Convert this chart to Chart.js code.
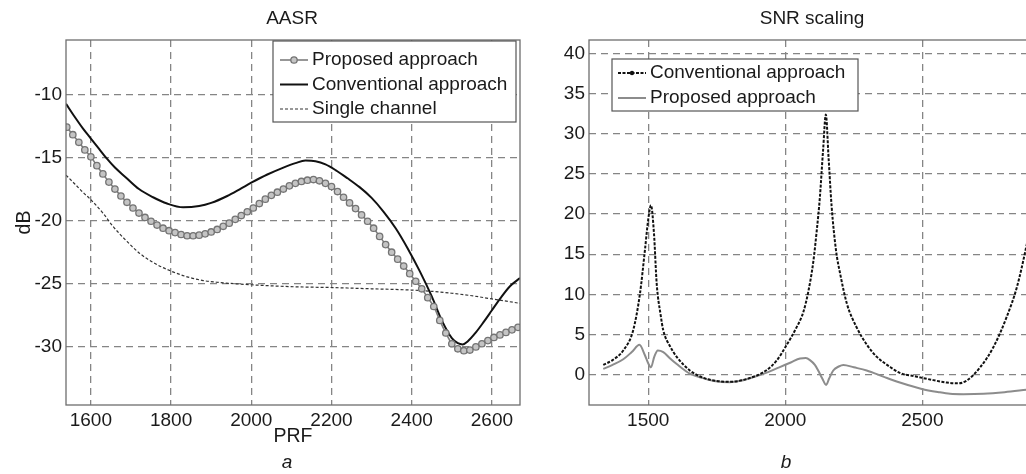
<!DOCTYPE html>
<html>
<head>
<meta charset="utf-8">
<script src="https://cdn.jsdelivr.net/npm/chart.js@4.4.1/dist/chart.umd.min.js"></script>
<style>
  html, body { margin: 0; padding: 0; background: #fff; overflow: hidden; }
  body { width: 1026px; height: 474px; position: relative; font-family: "Liberation Sans", Arial, sans-serif; color: #1a1a1a; }
  canvas { position: absolute; top: 0; }
  #aasrChart { left: 0; }
  #snrChart { left: 530px; }
  .label { position: absolute; transform: translate(-50%, -50%); white-space: nowrap; font-size: 19px; }
  .cap { font-style: italic; }
</style>
</head>
<body>
<canvas id="aasrChart" width="530" height="474"></canvas>
<canvas id="snrChart" width="530" height="474"></canvas>
<div class="label" style="left:292px; top:18px;">AASR</div>
<div class="label" style="left:812px; top:18px;">SNR scaling</div>
<div class="label cap" style="left:287px; top:462px;">a</div>
<div class="label cap" style="left:786px; top:462px;">b</div>

<script>
// ---- panel a: AASR vs PRF ----
const aasrPrf = [1540, 1555, 1570, 1585, 1600, 1615, 1630, 1645, 1660, 1675, 1690, 1705, 1720, 1735, 1750, 1765,
    1780, 1795, 1810, 1825, 1840, 1855, 1870, 1885, 1900, 1915, 1930, 1945, 1960, 1975, 1990, 2005,
    2020, 2035, 2050, 2065, 2080, 2095, 2110, 2125, 2140, 2155, 2170, 2185, 2200, 2215, 2230, 2245,
    2260, 2275, 2290, 2305, 2320, 2335, 2350, 2365, 2380, 2395, 2410, 2425, 2440, 2455, 2470, 2485,
    2500, 2515, 2530, 2545, 2560, 2575, 2590, 2605, 2620, 2635, 2650, 2665];
const aasrProposed = [-12.6, -13.2, -13.8, -14.4, -14.95, -15.65, -16.3, -16.95, -17.5, -18.05, -18.55, -19.0, -19.4, -19.75, -20.05, -20.35,
    -20.6, -20.8, -20.95, -21.1, -21.2, -21.2, -21.15, -21.05, -20.9, -20.7, -20.45, -20.2, -19.9, -19.6, -19.3, -19.0,
    -18.65, -18.3, -18.0, -17.75, -17.5, -17.25, -17.05, -16.9, -16.8, -16.75, -16.85, -17.05, -17.3, -17.7, -18.15, -18.6,
    -19.05, -19.55, -20.05, -20.6, -21.25, -21.9, -22.5, -23.05, -23.6, -24.2, -24.8, -25.4, -26.1, -26.8, -27.9, -28.9,
    -29.75, -30.15, -30.3, -30.25, -30.0, -29.75, -29.5, -29.25, -29.05, -28.85, -28.65, -28.45];

const aasrConvPrf = [1538, 1560, 1580, 1600, 1620, 1640, 1660, 1688, 1720, 1755, 1790, 1830, 1870, 1900, 1940, 1972,
    2000, 2040, 2080, 2110, 2135, 2160, 2185, 2210, 2240, 2270, 2300, 2330, 2360, 2390, 2420, 2450,
    2475, 2500, 2515, 2527, 2540, 2560, 2580, 2600, 2620, 2645, 2670];
const aasrConv = [-10.75, -11.8, -12.7, -13.5, -14.3, -15.1, -15.8, -16.6, -17.5, -18.15, -18.65, -18.95, -18.85, -18.6, -18.05, -17.5,
    -17.0, -16.35, -15.8, -15.45, -15.25, -15.3, -15.55, -16.0, -16.65, -17.35, -18.2, -19.3, -20.6, -22.2, -24.0, -26.0,
    -27.9, -29.3, -29.7, -29.8, -29.55, -28.85, -28.0, -27.1, -26.2, -25.2, -24.55];

const aasrSinglePrf = [1538, 1560, 1580, 1600, 1630, 1655, 1690, 1722, 1760, 1800, 1840, 1880, 1920, 1960, 2040, 2120,
    2200, 2300, 2400, 2450, 2500, 2550, 2600, 2640, 2670];
const aasrSingle = [-16.4, -17.1, -17.75, -18.35, -19.4, -20.45, -21.65, -22.6, -23.4, -24.0, -24.45, -24.75, -24.9, -25.0, -25.15, -25.25,
    -25.3, -25.4, -25.5, -25.6, -25.75, -25.95, -26.2, -26.4, -26.55];

const aasrXTicks = [1600, 1800, 2000, 2200, 2400, 2600];
const aasrYTicks = [-30, -25, -20, -15, -10];

// ---- panel b: SNR scaling vs PRF ----
const snrConvPrf = [1336, 1370, 1409, 1445, 1470, 1488, 1500, 1510, 1521, 1531, 1545, 1555, 1580, 1604, 1652, 1700,
    1760, 1800, 1860, 1930, 1970, 2000, 2040, 2066, 2085, 2102, 2115, 2126, 2138, 2148, 2158, 2169,
    2185, 2200, 2225, 2260, 2300, 2334, 2380, 2418, 2470, 2540, 2589, 2630, 2662, 2711, 2759, 2808, 2845, 2879, 2900];
const snrConv = [1.2, 1.8, 3.0, 5.5, 10.1, 15.5, 19.3, 21.1, 17.6, 11.3, 7.5, 5.5, 3.5, 2.2, 0.5, -0.4,
    -0.85, -0.9, -0.55, 0.5, 1.8, 3.4, 5.8, 7.8, 10.5, 14.0, 18.0, 22.0, 28.0, 32.4, 27.0, 21.0,
    15.5, 12.6, 8.8, 5.9, 3.6, 2.2, 1.0, 0.2, -0.2, -0.7, -1.0, -1.1, -0.75, 0.9, 3.4, 7.2, 10.9, 15.9, 19.5];

const snrPropPrf = [1336, 1370, 1409, 1440, 1468, 1488, 1500, 1510, 1522, 1535, 1555, 1580, 1604, 1652, 1700, 1740,
    1797, 1840, 1882, 1930, 1978, 2020, 2054, 2075, 2090, 2108, 2120, 2135, 2149, 2160, 2175, 2195,
    2212, 2250, 2297, 2360, 2418, 2498, 2560, 2601, 2650, 2723, 2800, 2879, 2905];
const snrProp = [0.7, 1.2, 1.9, 2.8, 3.7, 2.4, 1.4, 0.9, 2.2, 3.0, 2.8, 2.0, 1.3, 0.1, -0.45, -0.8,
    -0.95, -0.75, -0.35, 0.2, 0.9, 1.5, 2.0, 2.05, 1.8, 1.2, 0.5, -0.5, -1.3, -0.5, 0.5, 1.0,
    1.2, 0.9, 0.5, -0.3, -1.0, -1.8, -2.2, -2.4, -2.45, -2.4, -2.2, -1.9, -1.8];

const snrXTicks = [1500, 2000, 2500];
const snrYTicks = [0, 5, 10, 15, 20, 25, 30, 35, 40];

const FONT = "'Liberation Sans', Arial, sans-serif";
const GRID = '#858585';

function toPoints(xs, ys) {
    return xs.map((x, i) => ({ x: x, y: ys[i] }));
}

// frame around the plot area, like the MATLAB axes box
const frameBox = {
    id: 'frameBox',
    afterDatasetsDraw(chart) {
        const { ctx, chartArea: a } = chart;
        ctx.save();
        ctx.strokeStyle = '#6e6e6e';
        ctx.lineWidth = 1.3;
        ctx.setLineDash([]);
        ctx.strokeRect(a.left, a.top, a.right - a.left, a.bottom - a.top);
        ctx.restore();
    }
};

// boxed legend drawn from the datasets themselves
const boxLegend = {
    id: 'boxLegend',
    afterDraw(chart, args, opts) {
        if (!opts || !opts.order) return;
        const ctx = chart.ctx;
        ctx.save();
        ctx.fillStyle = '#fff';
        ctx.fillRect(opts.x, opts.y, opts.w, opts.h);
        ctx.strokeStyle = '#555';
        ctx.lineWidth = 1.2;
        ctx.strokeRect(opts.x, opts.y, opts.w, opts.h);
        ctx.font = '19px ' + FONT;
        ctx.textBaseline = 'middle';
        ctx.fillStyle = '#1a1a1a';
        opts.order.forEach((di, i) => {
            const ds = chart.data.datasets[di];
            const y = opts.y + opts.first + i * opts.gap;
            const x0 = opts.x + opts.lineFrom, x1 = opts.x + opts.lineTo;
            ctx.strokeStyle = ds.borderColor;
            ctx.lineWidth = ds.borderWidth;
            ctx.setLineDash(ds.borderDash || []);
            ctx.beginPath();
            ctx.moveTo(x0, y);
            ctx.lineTo(x1, y);
            ctx.stroke();
            ctx.setLineDash([]);
            const xm = (x0 + x1) / 2;
            if (ds.pointRadius > 0) {
                ctx.beginPath();
                ctx.arc(xm, y, ds.pointRadius, 0, Math.PI * 2);
                ctx.fillStyle = ds.pointBackgroundColor;
                ctx.fill();
                ctx.lineWidth = ds.pointBorderWidth;
                ctx.strokeStyle = ds.pointBorderColor;
                ctx.stroke();
            }
            if (ds.legendDot) {
                ctx.beginPath();
                ctx.arc(xm, y, 2.2, 0, Math.PI * 2);
                ctx.fillStyle = ds.borderColor;
                ctx.fill();
            }
            ctx.fillStyle = '#1a1a1a';
            ctx.fillText(ds.label, opts.x + opts.textX, y);
        });
        ctx.restore();
    }
};

function axisOpts(min, max, ticks, fit, extra) {
    return Object.assign({
        type: 'linear',
        min: min,
        max: max,
        afterBuildTicks: (scale) => { scale.ticks = ticks.map(v => ({ value: v })); },
        afterFit: fit,
        grid: { color: GRID, lineWidth: 1.3, drawTicks: false },
        border: { display: false, dash: [7, 5] },
        ticks: {
            color: '#1a1a1a', font: { family: FONT, size: 19 }, padding: 4,
            callback: (v) => String(v)
        }
    }, extra || {});
}

function makeChart(id, datasets, xScale, yScale, padRight, legend) {
    return new Chart(document.getElementById(id), {
        type: 'line',
        data: { datasets: datasets },
        options: {
            responsive: false,
            devicePixelRatio: 1,
            animation: false,
            layout: { padding: { top: 40, right: padRight, left: 0, bottom: 0 } },
            elements: { line: { cubicInterpolationMode: 'monotone' } },
            plugins: {
                legend: { display: false },
                tooltip: { enabled: false },
                boxLegend: legend
            },
            scales: { x: xScale, y: yScale }
        },
        plugins: [frameBox, boxLegend]
    });
}

makeChart('aasrChart', [
    {
        label: 'Proposed approach',
        data: toPoints(aasrPrf, aasrProposed),
        borderColor: '#7d7d7d', borderWidth: 1.6,
        pointRadius: 3.2, pointBorderWidth: 1.3,
        pointBorderColor: '#747474', pointBackgroundColor: '#c4c4c4'
    },
    {
        label: 'Conventional approach',
        data: toPoints(aasrConvPrf, aasrConv),
        borderColor: '#111', borderWidth: 2, pointRadius: 0
    },
    {
        label: 'Single channel',
        data: toPoints(aasrSinglePrf, aasrSingle),
        borderColor: '#333', borderWidth: 1.2, borderDash: [3, 2], pointRadius: 0
    }
],
    axisOpts(1538, 2670, aasrXTicks, (s) => { s.height = 69; }, {
        title: { display: true, text: 'PRF', color: '#1a1a1a', font: { family: FONT, size: 19.5 }, padding: { top: 0, bottom: 26 } }
    }),
    axisOpts(-34.6, -5.7, aasrYTicks, (s) => { s.width = 66; }, {
        title: { display: true, text: 'dB', color: '#1a1a1a', font: { family: FONT, size: 19.5 }, padding: { top: 13, bottom: 0 } }
    }),
    10,
    { order: [0, 1, 2], x: 273, y: 41, w: 243, h: 81, first: 19, gap: 24.5, lineFrom: 7, lineTo: 35, textX: 39 }
);

makeChart('snrChart', [
    {
        label: 'Conventional approach',
        data: toPoints(snrConvPrf, snrConv),
        borderColor: '#111', borderWidth: 2, borderDash: [3, 1.5], pointRadius: 0, legendDot: true
    },
    {
        label: 'Proposed approach',
        data: toPoints(snrPropPrf, snrProp),
        borderColor: '#8c8c8c', borderWidth: 2, pointRadius: 0
    }
],
    axisOpts(1284, 2911, snrXTicks, (s) => { s.height = 69; }),
    axisOpts(-3.8, 41.7, snrYTicks, (s) => { s.width = 59; }, {}),
    25,
    { order: [0, 1], x: 82, y: 59, w: 246, h: 52, first: 14, gap: 25, lineFrom: 6, lineTo: 34, textX: 38 }
);
</script>
</body>
</html>
